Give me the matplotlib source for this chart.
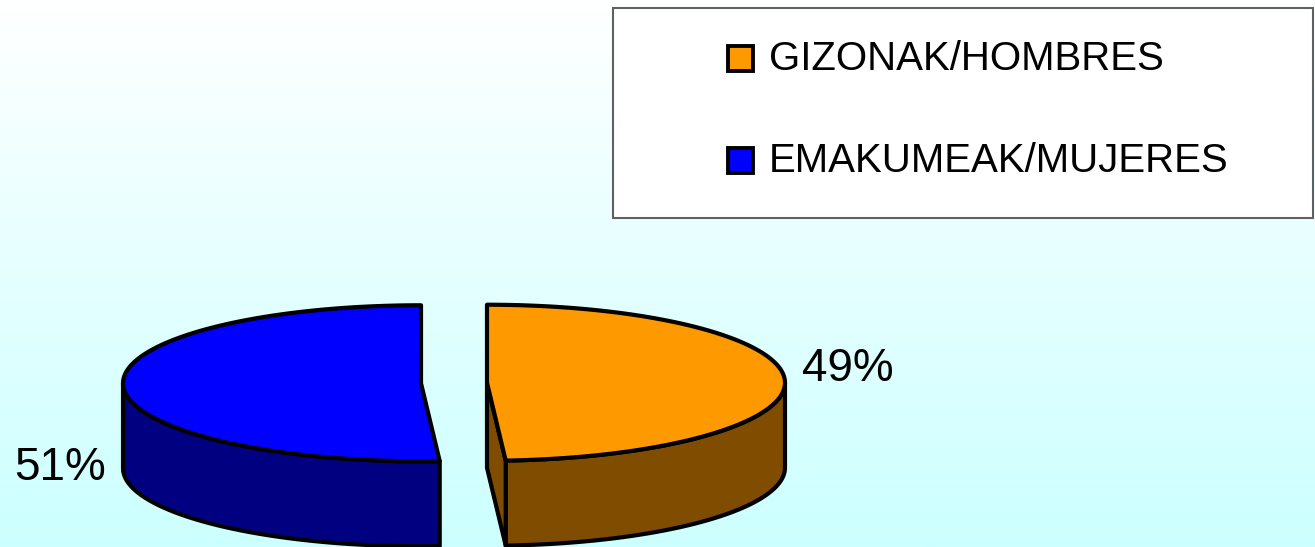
import numpy as np
import matplotlib
matplotlib.use("Agg")
import matplotlib.pyplot as plt
from matplotlib.patches import Polygon, Rectangle

# ---- data ----
categories = ["GIZONAK/HOMBRES", "EMAKUMEAK/MUJERES"]
values = [49, 51]
top_colors = ["#FF9900", "#0000FF"]
side_colors = ["#804C00", "#000080"]

W, H = 1315, 547
fig = plt.figure(figsize=(W / 100, H / 100), dpi=100)
ax = fig.add_axes([0, 0, 1, 1])
ax.set_xlim(0, W)
ax.set_ylim(H, 0)
ax.axis("off")

# background gradient: white (top) -> light cyan (bottom)
grad = np.linspace(0, 1, 256).reshape(-1, 1)
top_c = np.array([1.0, 1.0, 1.0])
bot_c = np.array([0.80, 1.0, 1.0])
img = top_c[None, None, :] * (1 - grad[:, :, None]) + bot_c[None, None, :] * grad[:, :, None]
ax.imshow(img, extent=(0, W, H, 0), aspect="auto", zorder=0)

# ---- 3D pie geometry (pixel space) ----
CX, CY = 454, 383     # pie centre
RX, RY = 298, 78      # ellipse radii
DEPTH = 85            # slab thickness
EXPLODE = 33          # explode distance
LW = 3.0

def rim(cx, cy, th, dz=0.0):
    return cx + RX * np.sin(th), cy - RY * np.cos(th) + dz

total = float(sum(values))
start = 0.0
for i, v in enumerate(values):
    a0 = start
    a1 = start + 2 * np.pi * v / total
    start = a1
    mid = 0.5 * (a0 + a1)
    cx = CX + EXPLODE * np.sin(mid)
    cy = CY - EXPLODE * np.cos(mid) * RY / RX

    # outer wall (front facing: pi/2 .. 3pi/2)
    w0, w1 = max(a0, np.pi / 2), min(a1, 3 * np.pi / 2)
    if w1 > w0:
        th = np.linspace(w0, w1, 200)
        xt, yt = rim(cx, cy, th)
        xb, yb = rim(cx, cy, th[::-1], DEPTH)
        pts = np.column_stack([np.r_[xt, xb], np.r_[yt, yb]])
        ax.add_patch(Polygon(pts, closed=True, fc=side_colors[i], ec="black",
                             lw=LW, joinstyle="round", zorder=2))

    # radial cut faces
    for edge, sgn in ((a0, -1), (a1, 1)):
        if sgn * np.sin(edge) > 1e-6:
            ex, ey = rim(cx, cy, edge)
            pts = [(cx, cy), (ex, ey), (ex, ey + DEPTH), (cx, cy + DEPTH)]
            ax.add_patch(Polygon(pts, closed=True, fc=side_colors[i], ec="black",
                                 lw=LW, joinstyle="round", zorder=2))

    # top face
    th = np.linspace(a0, a1, 300)
    xt, yt = rim(cx, cy, th)
    pts = np.column_stack([np.r_[cx, xt], np.r_[cy, yt]])
    ax.add_patch(Polygon(pts, closed=True, fc=top_colors[i], ec="black",
                         lw=LW, joinstyle="round", zorder=3))

# percentage labels
label_pos = [(848, 369), (60, 468)]
for v, (lx, ly) in zip(values, label_pos):
    ax.text(lx, ly, f"{v}%", fontsize=33, family="Liberation Sans",
            ha="center", va="center", color="black", zorder=5)

# ---- legend box ----
ax.add_patch(Rectangle((613, 8), 700, 210, fc="white", ec="#606060", lw=1.5, zorder=4))
leg_y = [59, 161]
for cat, col, ly in zip(categories, top_colors, leg_y):
    ax.add_patch(Rectangle((728, ly - 13), 25, 25, fc=col, ec="black", lw=2.8, zorder=5))
    ax.text(769, ly, cat, fontsize=29, family="Liberation Sans",
            ha="left", va="center", color="black", zorder=5)

fig.savefig("out.png", dpi=100)
